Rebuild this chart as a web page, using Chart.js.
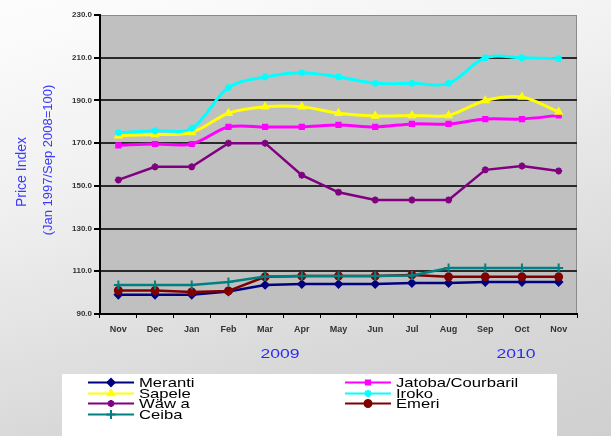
<!DOCTYPE html>
<html>
<head>
<meta charset="utf-8">
<script src="https://cdn.jsdelivr.net/npm/chart.js@4/dist/chart.umd.min.js"></script>
<style>
  body { margin: 0; }
  #wrap {
    position: relative; width: 611px; height: 436px; overflow: hidden;
    background: linear-gradient(165deg, #fdfdfd 0%, #f0f0f0 35%, #d8d8d8 75%, #d0d0d0 100%);
    font-family: "Liberation Sans", Arial, sans-serif;
  }
  #chart { position: absolute; left: 0; top: 0; }
  .ytitle {
    position: absolute; color: #3a3aff; white-space: nowrap;
    transform: translate(-50%, -50%) rotate(-90deg);
  }
  .year { position: absolute; color: #2b2bf0; font-size: 13px; transform: translate(-50%, -50%) scaleX(1.35); }
  #legend {
    position: absolute; left: 62px; top: 374px; width: 495px; height: 62px;
    background: #ffffff;
  }
  .item { position: absolute; height: 11px; display: flex; align-items: center; font-size: 13px; line-height: 11px; color: #000; }
  .item canvas { margin-right: 5px; }
  .item span { display: inline-block; transform: scaleX(1.28); transform-origin: left center; }
</style>
</head>
<body>
<div id="wrap">
  <canvas id="chart" width="611" height="436"></canvas>
  <div class="ytitle" style="left:21px; top:172px; font-size:14px;">Price Index</div>
  <div class="ytitle" style="left:47px; top:160px; font-size:13px;">(Jan 1997/Sep 2008=100)</div>
  <div class="year" style="left:280px; top:353px;">2009</div>
  <div class="year" style="left:516px; top:353px;">2010</div>
  <div id="legend"></div>
</div>
<script>
// months Nov 2008 .. Nov 2010 (labels only)
let months = ['Nov', 'Dec', 'Jan', 'Feb', 'Mar', 'Apr', 'May', 'Jun', 'Jul', 'Aug', 'Sep', 'Oct', 'Nov'];

let meranti = [99, 99, 99, 100.5, 103.6, 104, 104, 104, 104.5, 104.5, 105, 105, 105];
let jatoba = [169, 169.6, 169.6, 177.6, 177.6, 177.6, 178.5, 177.6, 179, 179, 181.3, 181.3, 183];
let sapele = [173.5, 174, 175, 184, 187, 187, 184, 182.7, 183, 183, 190, 191.6, 184.6];
let iroko = [175, 175.8, 177, 196, 201, 203, 201, 198, 198, 198, 210, 210, 209.5];
let wawa = [152.8, 158.9, 158.9, 170, 170, 155, 147, 143.4, 143.4, 143.4, 157.5, 159.3, 157];
let emeri = [101, 101, 100.3, 100.8, 107.4, 107.8, 107.8, 107.8, 108.3, 107.4, 107.4, 107.4, 107.4];
let ceiba = [103.6, 103.6, 103.6, 105, 107.6, 107.8, 107.8, 107.8, 108, 111.5, 111.5, 111.5, 111.5];

let names = ['Meranti', 'Jatoba/Courbaril', 'Sapele', 'Iroko', 'Wawa', 'Emeri', 'Ceiba'];
let legendNames = [' Meranti', 'Jatoba/Courbaril', 'Sapele', 'Iroko', 'Wäw a', 'Emeri', 'Ceiba'];
let series = [meranti, jatoba, sapele, iroko, wawa, emeri, ceiba];
let colors = ['#000080', '#ff00ff', '#ffff00', '#00ffff', '#800080', '#800000', '#008080'];
let markers = ['rectRot', 'rect', 'triangle', 'star', 'star', 'circle', 'cross'];
let radii = [3.5, 3, 3.5, 3.5, 3.5, 3.5, 4.5];
let widths = [2.5, 3, 3, 3, 2.5, 2.5, 2.5];
let tensions = [0, 0.3, 0.3, 0.35, 0, 0, 0];

// plot area background
const plotBg = {
  id: 'plotBg',
  beforeDraw(chart) {
    const a = chart.chartArea, ctx = chart.ctx;
    ctx.save();
    ctx.fillStyle = '#c0c0c0';
    ctx.fillRect(a.left, a.top, a.right - a.left, a.bottom - a.top);
    ctx.strokeStyle = '#8a8a8a';
    ctx.lineWidth = 1;
    ctx.strokeRect(a.left + 0.5, a.top + 0.5, a.right - a.left - 1, a.bottom - a.top - 1);
    ctx.restore();
  }
};

const ctx = document.getElementById('chart').getContext('2d');
const chart = new Chart(ctx, {
  type: 'line',
  data: {
    labels: months,
    datasets: series.map(function (d, i) {
      return {
        label: names[i],
        data: d,
        borderColor: colors[i],
        backgroundColor: colors[i],
        borderWidth: widths[i],
        pointStyle: markers[i],
        pointRadius: radii[i],
        pointBorderWidth: 2,
        tension: tensions[i],
        order: 7 - i
      };
    })
  },
  options: {
    responsive: false,
    animation: false,
    layout: { padding: { top: 15, right: 34, left: 0, bottom: 0 } },
    plugins: { legend: { display: false }, tooltip: { enabled: false } },
    scales: {
      x: {
        offset: true,
        afterFit: function (s) { s.height = 122; },
        grid: { offset: true, drawOnChartArea: false, drawTicks: true, tickLength: 4, color: '#000' },
        border: { color: '#000', width: 2 },
        ticks: { color: '#333', font: { size: 9, weight: 'bold', family: 'Liberation Sans' }, padding: 6, maxRotation: 0, autoSkip: false }
      },
      y: {
        min: 90,
        max: 230,
        afterFit: function (s) { s.width = 100; },
        grid: {
          color: function (c) { return c.tick && c.tick.value === 230 ? 'rgba(0,0,0,0)' : '#2a2a2a'; },
          lineWidth: 2,
          tickLength: 6,
          tickColor: '#000'
        },
        border: { color: '#000', width: 2 },
        ticks: {
          stepSize: 20,
          color: '#333',
          padding: 2,
          font: { size: 8, weight: 'bold', family: 'Liberation Sans' },
          callback: function (v) { return v.toFixed(1); }
        }
      }
    }
  },
  plugins: [plotBg]
});

// html legend, two columns
const legend = document.getElementById('legend');
names.forEach(function (n, i) {
  const col = i % 2, row = Math.floor(i / 2);
  const item = document.createElement('div');
  item.className = 'item';
  item.style.left = (col === 0 ? 26 : 283) + 'px';
  item.style.top = (3 + row * 10.7) + 'px';
  const c = document.createElement('canvas');
  c.width = 46; c.height = 11;
  const g = c.getContext('2d');
  g.strokeStyle = colors[i];
  g.fillStyle = colors[i];
  g.lineWidth = 2;
  g.beginPath(); g.moveTo(0, 5.5); g.lineTo(46, 5.5); g.stroke();
  Chart.helpers.drawPoint(g, { pointStyle: markers[i], radius: radii[i], borderWidth: 2, rotation: 0 }, 23, 5.5);
  item.appendChild(c);
  const t = document.createElement('span');
  t.textContent = legendNames[i];
  item.appendChild(t);
  legend.appendChild(item);
});
</script>
</body>
</html>
